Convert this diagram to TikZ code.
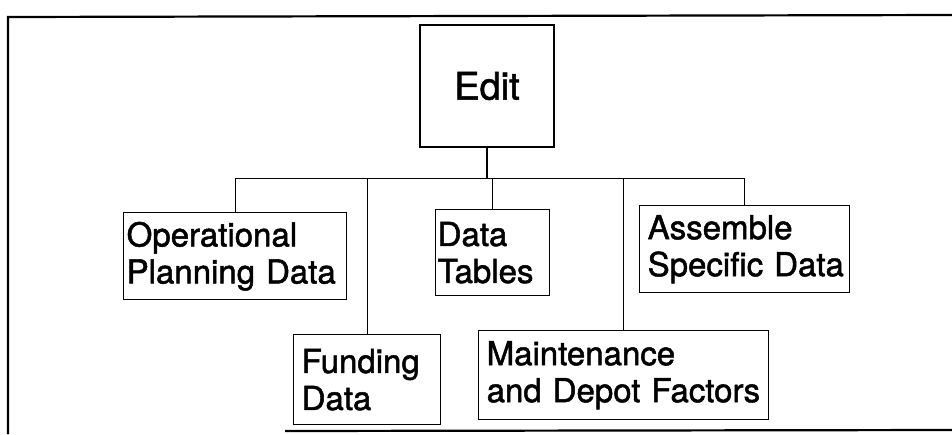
\documentclass[tikz,border=0pt]{standalone}
\usepackage{fontspec}
\setsansfont{TeX Gyre Heros}[BoldFont={TeX Gyre Heros}, BoldFeatures={FakeBold=1.5}]
\usepackage{tikz}
\usetikzlibrary{positioning}

\tikzset{
  blk/.style={draw, line width=0.7pt, anchor=north west, align=left,
    inner xsep=4pt, inner ysep=0pt,
    font=\sffamily\bfseries\fontsize{16.5}{18.5}\selectfont},
  wire/.style={line width=0.6pt}
}

\begin{document}
\begin{tikzpicture}[x=0.5pt, y=-0.5pt]
\useasboundingbox (0,0) rectangle (952,434);

% outer frame (open at the right)
\draw[line width=1.1pt] (952,15) -- (8,17) -- (8,434);
\draw[line width=1.1pt] (285,431) -- (952,430);

\node[draw, line width=0.7pt, minimum width=67pt, minimum height=61pt,
      font=\sffamily\bfseries\fontsize{19}{23}\selectfont] (edit) at (487,86) {Edit};

\node[blk, inner xsep=1.5pt, text width=108.5pt, minimum height=43.5pt] (opd) at (123,212)
    {Operational\\Planning~Data};
\node[blk, text width=65.5pt, minimum height=45pt] (fund) at (293,334)
    {Funding\\Data};
\node[blk, inner xsep=1pt, text width=55pt, minimum height=43pt] (tabs) at (435,209)
    {Data\\Tables};
\node[blk, text width=137pt, minimum height=44.5pt] (mnt) at (478,330)
    {Maintenance\\and~Depot~Factors};
\node[blk, text width=97pt, minimum height=43.5pt] (asm) at (639,205)
    {Assemble\\Specific~Data};

\draw[wire] (edit.south) -- ++(0,31) coordinate (bus);
\draw[wire] (opd.north) |- (bus);
\draw[wire] (fund.north) |- (bus);
\draw[wire] (tabs.north) |- (bus);
\draw[wire] (mnt.north) |- (bus);
\draw[wire] (asm.north) |- (bus);

\end{tikzpicture}
\end{document}
